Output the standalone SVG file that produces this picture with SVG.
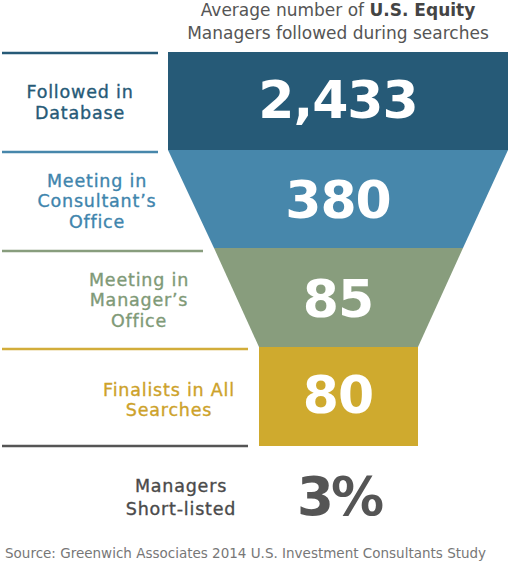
<svg xmlns="http://www.w3.org/2000/svg" width="508" height="567" viewBox="0 0 508 567">
<style>
text{font-family:"DejaVu Sans","Liberation Sans",sans-serif;}
.lbl{font-size:17.5px;text-anchor:middle;letter-spacing:0.8px;stroke-width:0.35px;}
.num{font-size:52px;font-weight:bold;fill:#fff;text-anchor:middle;letter-spacing:-1px;}
.hd{font-size:17px;fill:#555;text-anchor:middle;}
.rule{stroke-width:2.5;}
</style>
<rect width="508" height="567" fill="#fff"/>
<g id="header">
<text class="hd" x="338" y="16">Average number of <tspan font-weight="bold" fill="#444">U.S. Equity</tspan></text>
<text class="hd" x="338" y="39">Managers followed during searches</text>
</g>
<g id="connectors">
<line class="rule" x1="2" y1="53" x2="158" y2="53" stroke="#265a77"/>
<line class="rule" x1="2" y1="152" x2="158" y2="152" stroke="#4787ab"/>
<line class="rule" x1="2" y1="251" x2="203" y2="251" stroke="#889d7d"/>
<line class="rule" x1="2" y1="349" x2="248" y2="349" stroke="#d2ad3a"/>
<line class="rule" x1="2" y1="446" x2="248" y2="446" stroke="#555"/>
</g>
<g id="database">
<rect x="168" y="52" width="340" height="98" fill="#265a77"/>
<text class="num" x="338" y="118">2,433</text>
<text class="lbl" fill="#265a77" stroke="#265a77" x="80" y="98">Followed in</text>
<text class="lbl" fill="#265a77" stroke="#265a77" x="80" y="119">Database</text>
</g>
<g id="consultant">
<polygon points="168,150 508,150 463,248 214,248" fill="#4787ab"/>
<text class="num" x="338" y="218">380</text>
<text class="lbl" fill="#3f85ad" stroke="#3f85ad" x="97" y="187">Meeting in</text>
<text class="lbl" fill="#3f85ad" stroke="#3f85ad" x="97" y="207">Consultant’s</text>
<text class="lbl" fill="#3f85ad" stroke="#3f85ad" x="97" y="228">Office</text>
</g>
<g id="manager">
<polygon points="214,248 463,248 418,347 259,347" fill="#889d7d"/>
<text class="num" x="338" y="317">85</text>
<text class="lbl" fill="#7f9a77" stroke="#7f9a77" x="139" y="286">Meeting in</text>
<text class="lbl" fill="#7f9a77" stroke="#7f9a77" x="139" y="306">Manager’s</text>
<text class="lbl" fill="#7f9a77" stroke="#7f9a77" x="139" y="327">Office</text>
</g>
<g id="finalists">
<rect x="259" y="347" width="159" height="99" fill="#cfaa2e"/>
<text class="num" x="338" y="413">80</text>
<text class="lbl" fill="#cda22a" stroke="#cda22a" x="169" y="396">Finalists in All</text>
<text class="lbl" fill="#cda22a" stroke="#cda22a" x="169" y="416">Searches</text>
</g>
<g id="shortlisted">
<text class="lbl" fill="#4a4a4a" stroke="#4a4a4a" x="181" y="492">Managers</text>
<text class="lbl" fill="#4a4a4a" stroke="#4a4a4a" x="181" y="515">Short-listed</text>
<text x="339" y="515" font-size="53" font-weight="bold" fill="#555" text-anchor="middle" letter-spacing="-3">3%</text>
</g>
<g id="source">
<text x="5" y="558" font-size="13.5" fill="#777">Source: Greenwich Associates 2014 U.S. Investment Consultants Study</text>
</g>
</svg>
